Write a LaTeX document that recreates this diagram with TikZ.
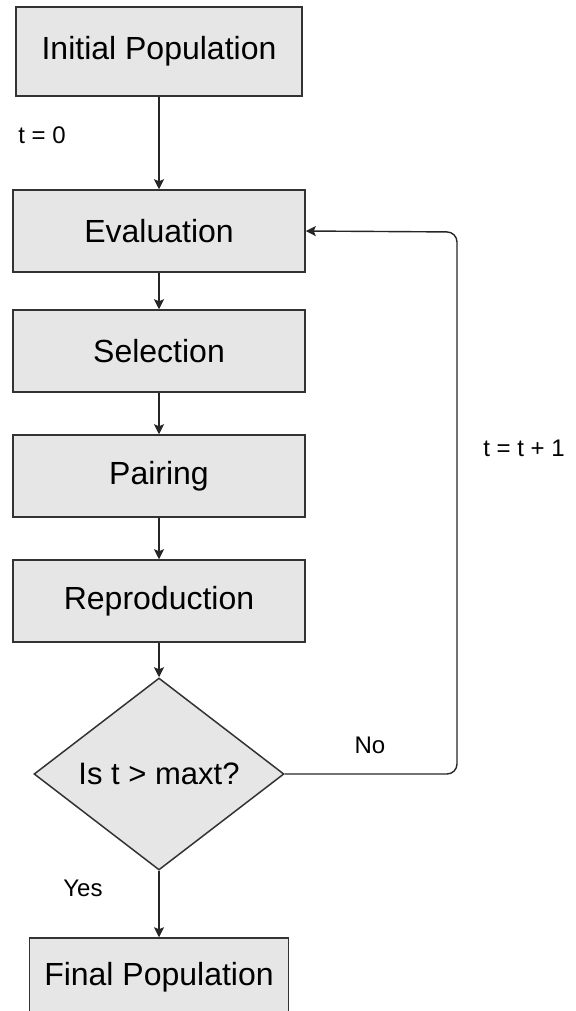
\documentclass[tikz,border=0pt]{standalone}
\usepackage{fontspec}
\setmainfont{Liberation Sans}
\usepackage{xcolor}
\usetikzlibrary{arrows.meta,positioning,shapes.geometric}
\definecolor{boxgray}{HTML}{E6E6E6}
\definecolor{edgegray}{HTML}{333333}
\tikzset{
    stagebox/.style={rectangle,draw=edgegray,line width=0.75pt,fill=boxgray,
        minimum width=146pt,minimum height=41pt,inner sep=0pt,
        font=\fontsize{16}{19}\selectfont},
    testbox/.style={diamond,draw=edgegray,line width=0.75pt,fill=boxgray,
        minimum width=125pt,minimum height=96pt,inner sep=0pt,shape aspect=1.3,
        font=\fontsize{15.5}{19}\selectfont},
    lbl/.style={font=\fontsize{12}{14}\selectfont,inner sep=0pt},
    arr/.style={-{Stealth[length=5pt,width=5pt,inset=1pt]},line width=0.7pt,draw=black!85}
}
\begin{document}
\begin{tikzpicture}[x=0.5pt,y=-0.5pt]
    \clip (0,0) rectangle (575,1011);
    \node[stagebox,minimum width=143pt,minimum height=44.5pt] (init) at (159,51.5) {Initial Population};
    \node[stagebox,below=46.25pt of init] (eval) {Evaluation};
    \node[stagebox,below=18.25pt of eval] (select) {Selection};
    \node[stagebox,below=20.75pt of select] (pair) {Pairing};
    \node[stagebox,below=20.75pt of pair] (repro) {Reproduction};
    \node[testbox,below=17.25pt of repro] (test) {Is t > maxt?};
    \node[stagebox,minimum width=129.5pt,minimum height=39pt,below=33.25pt of test] (final) {Final Population};

    \coordinate (back) at (457,232);

    \node[lbl] (tzero) at (42,135) {t = 0};
    \node[lbl] (tnext) at (524,448) {t = t + 1};
    \node[lbl] (no) at (370,745) {No};
    \node[lbl] (yes) at (83,888) {Yes};

    \draw[arr] (init) -- (eval);
    \draw[arr] (eval) -- (select);
    \draw[arr] (select) -- (pair);
    \draw[arr] (pair) -- (repro);
    \draw[arr] (repro) -- (test);
    \draw[arr] (test) -- (final);
    \draw[arr,rounded corners=5pt] (test.east) -| (back) -- (eval.east);
\end{tikzpicture}
\end{document}
